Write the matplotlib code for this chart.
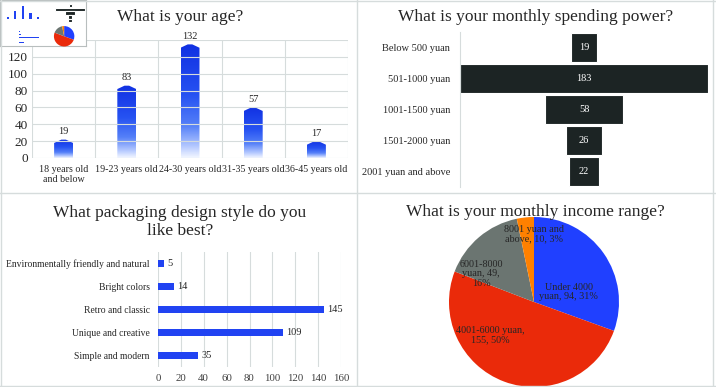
import textwrap
import numpy as np
import matplotlib
matplotlib.use("Agg")
import matplotlib.pyplot as plt
from matplotlib.patches import Polygon
from matplotlib.colors import LinearSegmentedColormap
from matplotlib.lines import Line2D

plt.rcParams['font.family'] = ['Liberation Serif', 'DejaVu Serif']

# ---------------- data ----------------
age_labels = ["18 years old\nand below", "19-23 years old", "24-30 years old",
              "31-35 years old", "36-45 years old"]
age_values = [19, 83, 132, 57, 17]

spend_labels = ["Below 500 yuan", "501-1000 yuan", "1001-1500 yuan",
                "1501-2000 yuan", "2001 yuan and above"]
spend_values = [19, 183, 58, 26, 22]

style_labels = ["Simple and modern", "Unique and creative", "Retro and classic",
                "Bright colors", "Environmentally friendly and natural"]
style_values = [35, 109, 145, 14, 5]

income_labels = ["Under 4000 yuan", "4001-6000 yuan", "6001-8000 yuan",
                 "8001 yuan and above"]
income_values = [94, 155, 49, 10]

# ---------------- style ----------------
W, H = 716, 387
grid_c = "#d6dcdc"
txt_c = "#262626"
blue = "#2143f2"
funnel_c = "#1c2424"
pie_colors = ["#2040ff", "#ea2a0a", "#6b7571", "#ff8000"]
grad_cmap = LinearSegmentedColormap.from_list(
    "g", [(0.0, "#f2f6ff"), (0.1, "#b4c8ff"), (0.28, "#5580f8"),
          (0.55, "#2652f2"), (1.0, "#1030e2")])

fig = plt.figure(figsize=(W / 100, H / 100), dpi=100)


def rect(x0, y0, x1, y1, s=1.0, ox=0.0, oy=0.0):
    x0, x1 = ox + x0 * s, ox + x1 * s
    y0, y1 = oy + y0 * s, oy + y1 * s
    return [x0 / W, 1 - y1 / H, (x1 - x0) / W, (y1 - y0) / H]


# panel separators
for (xa, xb, ya, yb) in [(357, 357, 0, 387), (0, 716, 193, 193), (713, 713, 0, 387),
                         (1, 1, 0, 387), (0, 716, 1, 1), (0, 716, 386, 386)]:
    fig.add_artist(Line2D([xa / W, xb / W], [1 - ya / H, 1 - yb / H],
                          color=grid_c, lw=1, transform=fig.transFigure))


def draw(s=1.0, ox=0.0, oy=0.0, mini=False):
    # ---------- top-left: age ----------
    ax = fig.add_axes(rect(32, 40, 348, 158, s, ox, oy))
    bw = 0.3
    peak = 4.0
    for i, v in enumerate(age_values):
        x0, x1 = i - bw / 2, i + bw / 2
        poly = Polygon([(x0, 0), (x0, v - peak * 0.3), (i - bw * 0.12, v + peak * 0.7),
                        (i + bw * 0.12, v + peak * 0.7), (x1, v - peak * 0.3), (x1, 0)],
                       closed=True, facecolor="none", edgecolor="none")
        ax.add_patch(poly)
        if mini:
            ax.bar(i, v, bw, color=blue)
        else:
            grad = np.linspace(0, 1, 200).reshape(-1, 1)
            im = ax.imshow(grad, cmap=grad_cmap, origin="lower", aspect="auto",
                           extent=[x0, x1, 0, v + peak], interpolation="bilinear")
            im.set_clip_path(poly)
            ax.text(i, v + peak + 3, str(v), ha="center", va="bottom",
                    fontsize=7.5, color=txt_c)
    ax.set_xlim(-0.5, len(age_values) - 0.5)
    ax.set_ylim(0, 140)
    ax.set_aspect("auto")
    for sp in ax.spines.values():
        sp.set_visible(False)
    if mini:
        ax.set_xticks([]); ax.set_yticks([])
    else:
        ax.set_yticks(range(0, 141, 20))
        ax.set_xticks(range(len(age_values)))
        ax.set_xticklabels(age_labels, fontsize=7.2, color=txt_c, linespacing=1.1)
        ax.set_xticks(np.arange(-0.5, len(age_values), 1), minor=True)
        ax.tick_params(axis="y", labelsize=9.5, labelcolor=txt_c, length=0, pad=3)
        ax.tick_params(axis="x", which="both", length=0, pad=5)
        ax.grid(axis="y", color=grid_c, lw=0.8)
        ax.grid(axis="x", which="minor", color=grid_c, lw=0.8)
        ax.set_axisbelow(True)

    # ---------- top-right: funnel ----------
    ax = fig.add_axes(rect(460, 32, 708, 187, s, ox, oy))
    m = max(spend_values)
    yy = np.arange(len(spend_values))
    ax.barh(yy, spend_values, left=[-v / 2 for v in spend_values], height=0.94,
            color=funnel_c, edgecolor="white", lw=0.8)
    ax.set_xlim(-m / 2, m / 2)
    ax.set_ylim(len(spend_values) - 0.5, -0.5)
    for sp in ["top", "right", "bottom"]:
        ax.spines[sp].set_visible(False)
    ax.spines["left"].set_color(grid_c)
    ax.set_xticks([])
    if mini:
        ax.set_yticks([])
        ax.spines["left"].set_visible(False)
    else:
        ax.set_yticks(yy)
        ax.set_yticklabels(spend_labels, fontsize=7.5, color=txt_c)
        ax.tick_params(axis="y", length=0, pad=7)
        for y, v in zip(yy, spend_values):
            ax.text(0, y, str(v), ha="center", va="center", color="white", fontsize=7.5)

    # ---------- bottom-left: style ----------
    ax = fig.add_axes(rect(158, 252, 341, 367, s, ox, oy))
    yy = np.arange(len(style_values))
    ax.barh(yy, style_values, height=0.3, color=blue)
    ax.set_xlim(0, 160)
    ax.set_ylim(-0.5, len(style_values) - 0.5)
    for sp in ax.spines.values():
        sp.set_visible(False)
    if mini:
        ax.set_xticks([]); ax.set_yticks([])
    else:
        ax.set_xticks(range(0, 161, 20))
        ax.set_yticks(yy)
        ax.set_yticklabels(style_labels, fontsize=6.9, color=txt_c)
        ax.tick_params(axis="x", labelsize=7.8, labelcolor="#404040", length=0, pad=5)
        ax.tick_params(axis="y", length=0, pad=6)
        ax.grid(axis="x", color=grid_c, lw=0.8)
        ax.set_axisbelow(True)
        for y, v in zip(yy, style_values):
            ax.text(v + 3, y, str(v), ha="left", va="center", fontsize=7.5, color=txt_c)

    # ---------- bottom-right: pie ----------
    ax = fig.add_axes(rect(449, 217, 619, 387, s, ox, oy))
    ax.pie(income_values, colors=pie_colors, startangle=90, counterclock=False,
           radius=1.0, wedgeprops=dict(edgecolor="none"))
    ax.set_xlim(-1, 1)
    ax.set_ylim(-1, 1)
    if not mini:
        total = sum(income_values)
        wraps = [13, 15, 9, 13]
        pos = [(0.41, 0.12), (-0.51, -0.39), (-0.62, 0.33), (0.0, 0.80)]
        for name, v, wdt, (px, py) in zip(income_labels, income_values, wraps, pos):
            lab = f"{name}, {v}, {round(100 * v / total)}%"
            lab = "\n".join(textwrap.wrap(lab, wdt, break_on_hyphens=False))
            ax.text(px, py, lab, ha="center", va="center", ma="center",
                    fontsize=7.3, color=txt_c, linespacing=1.05)

    # ---------- titles ----------
    if not mini:
        fig.text(180 / W, 1 - 17 / H, "What is your age?", ha="center", va="center",
                 fontsize=12.5, color=txt_c)
        fig.text(536 / W, 1 - 17 / H, "What is your monthly spending power?",
                 ha="center", va="center", fontsize=12.5, color=txt_c)
        fig.text(180 / W, 1 - 222 / H, "What packaging design style do you\nlike best?",
                 ha="center", va="center", fontsize=12.5, color=txt_c, linespacing=1.1)
        fig.text(535 / W, 1 - 212 / H, "What is your monthly income range?",
                 ha="center", va="center", fontsize=12.5, color=txt_c)


draw()

# thumbnail of the whole figure in the top-left corner
sc = 86 / 716
bg = fig.add_axes(rect(0, 0, 86, 46))
bg.set_xticks([]); bg.set_yticks([])
bg.set_facecolor("white")
for sp in bg.spines.values():
    sp.set_color("#b8bebe")
    sp.set_linewidth(0.8)
draw(sc, 0, 0, mini=True)

fig.savefig("out.png", dpi=100, facecolor="white")
